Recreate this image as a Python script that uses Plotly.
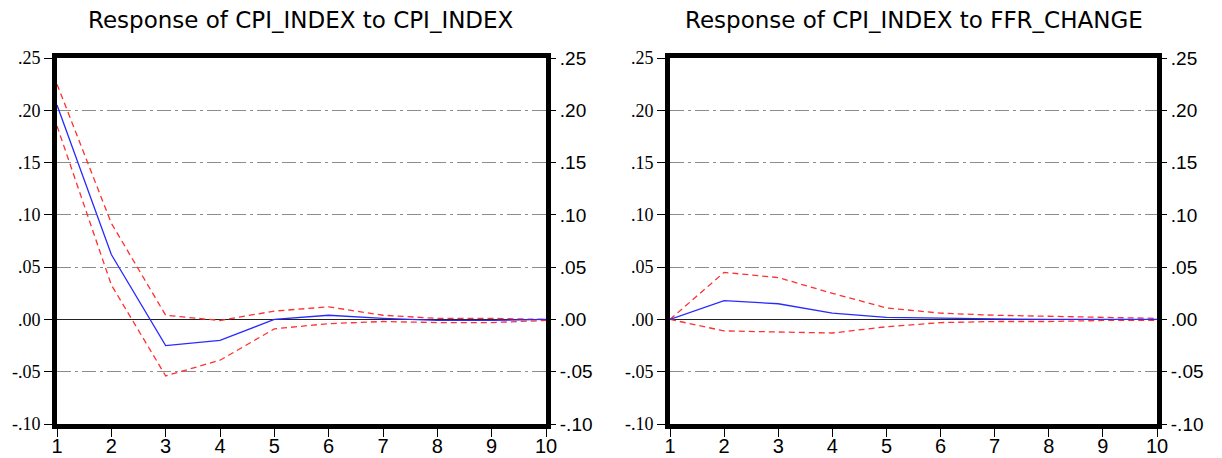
import plotly.graph_objects as go

periods = [1, 2, 3, 4, 5, 6, 7, 8, 9, 10]

titles = ["Response of CPI_INDEX to CPI_INDEX", "Response of CPI_INDEX to FFR_CHANGE"]

# Left panel: CPI_INDEX -> CPI_INDEX
cpi_resp = [0.205, 0.062, -0.025, -0.020, 0.000, 0.004, 0.001, -0.001, -0.001, 0.000]
cpi_upper = [0.225, 0.092, 0.004, -0.001, 0.008, 0.012, 0.004, 0.001, 0.001, 0.000]
cpi_lower = [0.185, 0.033, -0.054, -0.039, -0.009, -0.004, -0.002, -0.003, -0.003, -0.001]

# Right panel: CPI_INDEX -> FFR_CHANGE
ffr_resp = [0.000, 0.018, 0.015, 0.006, 0.002, 0.001, 0.0005, 0.000, 0.000, 0.000]
ffr_upper = [0.000, 0.045, 0.040, 0.025, 0.011, 0.006, 0.004, 0.003, 0.002, 0.001]
ffr_lower = [0.000, -0.011, -0.012, -0.013, -0.007, -0.003, -0.002, -0.002, -0.001, -0.001]

ytick_vals = [-0.10, -0.05, 0.00, 0.05, 0.10, 0.15, 0.20, 0.25]
ytick_text = ["-.10", "-.05", ".00", ".05", ".10", ".15", ".20", ".25"]
y_range = [-0.10, 0.25]

# the page body has an 8px margin; the figure is sized and laid out to compensate
OFF = 8
W, H = 1222 - OFF, 458 - OFF
TOP, BOTTOM = 58 - OFF, 424 - OFF
dom_left = [(57 - OFF) / W, (546 - OFF) / W]
dom_right = [(670 - OFF) / W, (1157 - OFF) / W]

fig = go.Figure()

panels = [
    (cpi_resp, cpi_upper, cpi_lower, "x", "y", "y3"),
    (ffr_resp, ffr_upper, ffr_lower, "x2", "y2", "y4"),
]
for resp, up, lo, xa, ya, ya2 in panels:
    for band in (up, lo):
        fig.add_trace(go.Scatter(x=periods, y=band, xaxis=xa, yaxis=ya, mode="lines",
                                 line=dict(color="#ff3030", width=1.3, dash="6px,4px"),
                                 showlegend=False))
    fig.add_trace(go.Scatter(x=periods, y=resp, xaxis=xa, yaxis=ya, mode="lines",
                             line=dict(color="#2a2aff", width=1.3), showlegend=False))
    # invisible trace on right-side axis so it renders
    fig.add_trace(go.Scatter(x=periods, y=resp, xaxis=xa, yaxis=ya2, mode="lines",
                             line=dict(width=0), opacity=0, hoverinfo="skip", showlegend=False))

xcommon = dict(range=[1, 10], tickvals=periods, ticktext=[str(p) for p in periods],
               showline=True, linewidth=5, linecolor="black", mirror=True, automargin=False,
               ticks="outside", ticklen=8, tickwidth=1, tickcolor="black", showgrid=False,
               zeroline=False, ticklabelstandoff=-8,
               tickfont=dict(family="Liberation Sans", size=20, color="black"))
yleft = dict(range=y_range, tickvals=ytick_vals, ticktext=ytick_text, automargin=False,
             showline=True, linewidth=5, linecolor="black", mirror=True,
             ticks="outside", ticklen=8, tickwidth=1, tickcolor="black",
             showgrid=True, gridcolor="#8c8c8c", gridwidth=1, griddash="14px,4px,3px,4px",
             zeroline=True, zerolinecolor="#222222", zerolinewidth=1,
             tickfont=dict(family="Liberation Serif", size=18, color="black"))
yright = dict(range=y_range, tickvals=ytick_vals, ticktext=ytick_text, side="right",
              automargin=False, showline=False, ticks="outside", ticklen=9, tickwidth=1,
              tickcolor="black", showgrid=False, zeroline=False,
              tickfont=dict(family="Liberation Sans", size=19, color="black"))

fig.update_layout(
    width=W, height=H,
    margin=dict(l=0, r=0, t=TOP, b=H - BOTTOM, pad=0),
    paper_bgcolor="white", plot_bgcolor="white",
    xaxis=dict(domain=dom_left, anchor="y", **xcommon),
    xaxis2=dict(domain=dom_right, anchor="y2", **xcommon),
    yaxis=dict(anchor="x", **yleft),
    yaxis2=dict(anchor="x2", **yleft),
    yaxis3=dict(anchor="x", overlaying="y", **yright),
    yaxis4=dict(anchor="x2", overlaying="y2", **yright),
)

for i, t in enumerate(titles):
    dom = dom_left if i == 0 else dom_right
    fig.add_annotation(text=t, xref="paper", yref="paper", x=(dom[0] + dom[1]) / 2,
                       y=1, yshift=38, showarrow=False, xanchor="center", yanchor="middle",
                       font=dict(family="DejaVu Sans", size=23, color="black"))

fig.write_html("out.html")
